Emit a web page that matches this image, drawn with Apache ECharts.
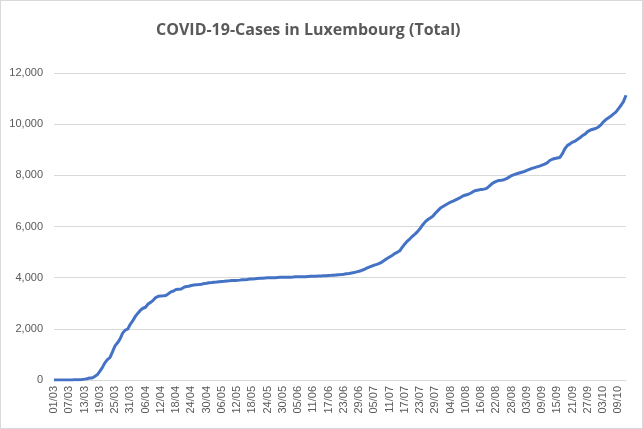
<!DOCTYPE html>
<html lang="en">
<head>
    <meta charset="UTF-8">
    <script src="https://cdn.jsdelivr.net/npm/echarts@6/dist/echarts.min.js"></script>
    <title>COVID-19-Cases in Luxembourg</title>
    <style>
        *{
            margin: 0;
            padding: 0;
        }
        body{
            background: #ffffff;
        }
        #chart{
            width: 643px;
            height: 429px;
            box-sizing: border-box;
            border: 1px solid #d9d9d9;
        }
    </style>
</head>
<body>
    <div id="chart"></div>
</body>
<script>
    // total cases per day, one array per month (2020)
    var march = [1, 1, 1, 1, 2, 3, 3, 4, 5, 5, 7, 19, 34, 51, 77, 81, 140, 203, 335, 484,
        670, 798, 875, 1099, 1333, 1453, 1605, 1831, 1950, 1988, 2178];
    var april = [2319, 2487, 2612, 2729, 2804, 2843, 2970, 3034, 3115, 3223, 3270, 3281, 3292, 3307, 3373,
        3444, 3480, 3537, 3550, 3558, 3618, 3654, 3665, 3695, 3711, 3723, 3729, 3741, 3769, 3784];
    var may = [3802, 3812, 3824, 3828, 3840, 3851, 3859, 3871, 3877, 3886, 3888, 3894, 3904, 3915, 3923,
        3930, 3945, 3947, 3958, 3971, 3980, 3981, 3990, 3992, 3993, 3995, 4001, 4008, 4012, 4016, 4018];
    var june = [4019, 4020, 4024, 4032, 4035, 4039, 4040, 4040, 4046, 4052, 4054, 4056, 4063, 4069, 4072,
        4075, 4085, 4090, 4097, 4105, 4113, 4120, 4133, 4150, 4165, 4183, 4204, 4228, 4253, 4281];
    var july = [4320, 4370, 4410, 4450, 4490, 4520, 4560, 4610, 4680, 4750, 4810, 4870, 4940, 4990, 5050,
        5190, 5320, 5430, 5520, 5620, 5700, 5800, 5920, 6060, 6180, 6270, 6330, 6400, 6520, 6620, 6720];
    var august = [6780, 6840, 6900, 6950, 6990, 7040, 7090, 7140, 7200, 7230, 7260, 7310, 7370, 7410, 7430,
        7450, 7460, 7480, 7560, 7650, 7720, 7760, 7800, 7810, 7830, 7870, 7930, 7990, 8030, 8060, 8090];
    var september = [8120, 8150, 8190, 8230, 8270, 8300, 8330, 8360, 8400, 8440, 8490, 8580, 8630, 8660, 8680,
        8700, 8850, 9050, 9170, 9230, 9300, 9340, 9410, 9480, 9560, 9620, 9720, 9770, 9800, 9830];
    var october = [9880, 9960, 10080, 10170, 10240, 10310, 10390, 10470, 10600, 10730, 10880, 11130];

    var months = [
        ['03', march], ['04', april], ['05', may], ['06', june],
        ['07', july], ['08', august], ['09', september], ['10', october]
    ];

    // dd/mm labels and values
    var days = [];
    var totals = [];
    months.forEach(function (m) {
        m[1].forEach(function (v, i) {
            var d = i + 1;
            days.push((d < 10 ? '0' + d : '' + d) + '/' + m[0]);
            totals.push(v);
        });
    });

    var chart = echarts.init(document.getElementById('chart'));
    var textColor = '#595959';
    var option = {
        backgroundColor: '#ffffff',
        animation: false,
        title: {
            text: 'COVID-19-Cases in Luxembourg (Total)',
            left: 150,
            top: 16,
            textStyle: {
                fontFamily: 'Open Sans',
                fontSize: 16,
                fontWeight: 'bold',
                color: textColor
            }
        },
        grid: {
            left: 53,
            right: 16,
            top: 72,
            bottom: 48,
            containLabel: false,
            outerBoundsMode: 'none'
        },
        xAxis: {
            type: 'category',
            data: days,
            boundaryGap: false,
            axisLine: {lineStyle: {color: '#d9d9d9'}},
            axisTick: {show: false},
            axisLabel: {
                interval: 5,
                rotate: 90,
                margin: 6,
                fontFamily: 'Liberation Sans',
                fontSize: 11,
                color: textColor
            }
        },
        yAxis: {
            type: 'value',
            min: 0,
            max: 12000,
            interval: 2000,
            axisLine: {show: false},
            axisTick: {show: false},
            splitLine: {lineStyle: {color: '#d9d9d9'}},
            axisLabel: {
                margin: 11,
                fontFamily: 'Liberation Sans',
                fontSize: 11,
                color: textColor,
                formatter: function (v) {
                    return v.toLocaleString('en-US');
                }
            }
        },
        series: [{
            type: 'line',
            data: totals,
            showSymbol: false,
            lineStyle: {color: '#4472c4', width: 3},
            itemStyle: {color: '#4472c4'}
        }]
    };
    chart.setOption(option);
</script>
</html>
